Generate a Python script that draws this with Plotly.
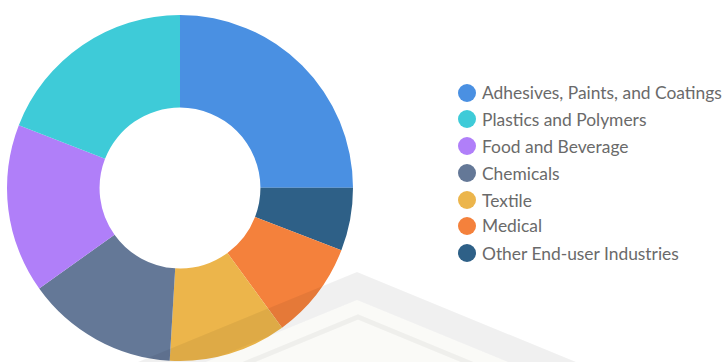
import plotly.graph_objects as go

W, H = 727, 362

labels = ["Adhesives, Paints, and Coatings", "Plastics and Polymers", "Food and Beverage",
          "Chemicals", "Textile", "Medical", "Other End-user Industries"]
values = [25.0, 19.1, 15.8, 14.2, 11.0, 9.1, 5.9]
colors = ["#4a90e2", "#3ecbd8", "#b07ff9", "#647897", "#ecb54b", "#f4813c", "#2e6087"]

# clockwise drawing order from 12 o'clock
pie_order = [0, 6, 5, 4, 3, 2, 1]

def px(x):
    return x / W

def py(y):
    return 1 - y / H

fig = go.Figure()
fig.add_trace(go.Pie(
    labels=[labels[i] for i in pie_order],
    values=[values[i] for i in pie_order],
    sort=False, direction="clockwise", rotation=0,
    hole=0.465,
    marker=dict(colors=[colors[i] for i in pie_order], line=dict(width=0)),
    textinfo="none", showlegend=False,
    domain=dict(x=[px(7), px(353)], y=[py(361), py(15)]),
))

shapes = []
annotations = []
legend_y = [93, 119, 146, 173, 200, 226, 253]
for lab, col, yy in zip(labels, colors, legend_y):
    r = 9
    shapes.append(dict(type="circle", xref="paper", yref="paper",
                       x0=px(467 - r), x1=px(467 + r), y0=py(yy + r), y1=py(yy - r),
                       fillcolor=col, line=dict(width=0)))
    annotations.append(dict(text=lab, x=px(480), y=py(yy), xref="paper", yref="paper",
                            xanchor="left", yanchor="middle", showarrow=False,
                            font=dict(family="Lato", size=17.4, color="#6a6a6a")))

def path(pts, close=True):
    s = "M " + " L ".join(f"{px(x):.5f},{py(y):.5f}" for x, y in pts)
    return s + (" Z" if close else "")

# faint watermark chevrons
shapes.append(dict(type="path", xref="paper", yref="paper",
                   path=path([(138, 362), (357, 272), (576, 362), (508, 362), (357, 300), (206, 362)]),
                   fillcolor="rgba(0,0,0,0.06)", line=dict(width=0), layer="above"))
shapes.append(dict(type="path", xref="paper", yref="paper",
                   path=path([(206, 362), (357, 300), (508, 362)]),
                   fillcolor="rgba(120,110,20,0.035)", line=dict(width=0), layer="above"))
shapes.append(dict(type="path", xref="paper", yref="paper",
                   path=path([(244, 364), (358, 317), (472, 364)], close=False),
                   fillcolor="rgba(0,0,0,0)", line=dict(width=5, color="rgba(0,0,0,0.045)"), layer="above"))

fig.update_layout(
    width=W, height=H, margin=dict(l=0, r=0, t=0, b=0),
    paper_bgcolor="white", plot_bgcolor="white",
    shapes=shapes, annotations=annotations,
)
fig.write_html("out.html")
